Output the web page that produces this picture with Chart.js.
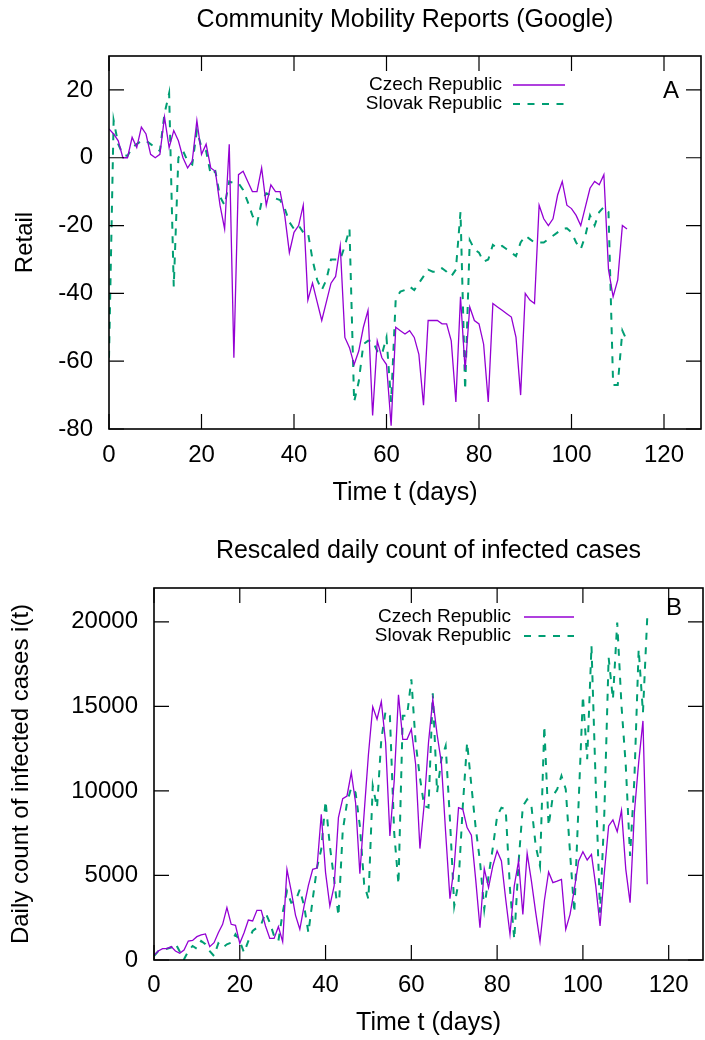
<!DOCTYPE html>
<html><head><meta charset="utf-8">
<script src="https://cdn.jsdelivr.net/npm/chart.js@4.4.0/dist/chart.umd.min.js"></script>
<style>
html,body{margin:0;padding:0;background:#fff;}
.wrap{position:absolute;left:0;width:705px;height:520px;}
canvas{display:block;}
</style></head><body>
<div class="wrap" style="top:0"><canvas id="cA" width="705" height="520"></canvas></div>
<div class="wrap" style="top:520px"><canvas id="cB" width="705" height="520"></canvas></div>
<script>
// ---------- Panel A: Google mobility, retail (day index = position in array) ----------
const czechRetail = [8.5,7,5,0,0,6,3,9,7,1,0,1,12,3,8,5,0,-3,-1,11,1,4,-3,-4,-14,-21,4,-59,-5,-4,
  -7,-10,-10,-3,-14,-8,-10,-10,-17,-28,-22,-20,-14,-42,-37,-42.5,-48,-42.5,-37,-35,
  -26,-53,-56,-61,-57,-50,-45,-76,-54,-59,-61,-79,-50,-51,-52,-51,-53,-58,-73,-48,
  -48,-48,-49,-49,-54,-72,-41,-62.6,-44,-48,-49,-55,-72,-43,-44,-45,-46,-47,-53,-70,
  -40,-42,-43,-14,-18,-20,-18,-11,-7,-14,-15,-17,-20,-14.5,-9,-7,-8,-5,-33,-41,-36,-20,-21];
const slovakRetail = [-59,11,4,1,0.5,3,4,5,5,4,3,2,13,19,-38,0,2,-1,-2,8,3,2,-5,-4,-11.5,-14,-7,-7.5,-7.5,-9.5,
  -13,-17,-19.5,-13,-10.5,-11,-12,-12.5,-15,-19,-21,-20,-22,-22,-30,-36,-39,-36,-30,-30,
  -30,-26,-21,-72,-66,-55,-54,-54,-57,-58,-53,-72,-41.5,-39.5,-39,-38,-39,-37,-35,-33,
  -33.6,-33.6,-32.6,-33.6,-35,-33,-16,-68.5,-24.3,-27,-28,-30.7,-30,-25.7,-26.7,-26,-27,-28,-29,-25,
  -23,-24,-25,-25,-25,-24,-23,-22,-21,-20.8,-22,-25,-27,-23,-17,-20,-16,-14.5,-16,-67,-67,-51,-54];
const xTicks = [0,20,40,60,80,100,120];
const yTicksA = [-80,-60,-40,-20,0,20];

// ---------- Panel B: rescaled daily infected cases ----------
const czechCases = [276,530,670,670,790,530,395,590,1124,1160,1380,1480,1540,790,1025,1617,2110,3100,2110,2050,
  990,1617,2366,2307,2940,2940,2010,1280,1280,1970,1085,5360,4080,2640,1815,3195,4417,5360,5440,8620,
  5170,3195,4380,8420,9545,9700,11080,9300,5100,8700,12170,14970,14240,15280,12860,7340,10590,15680,13050,13050,
  13650,11580,6590,9210,12860,15420,13350,11670,7530,3630,5560,9010,8910,7830,7380,4770,1910,5400,4280,5560,
  6450,5860,3590,1520,4380,5860,2700,6310,4670,2800,1085,3490,5210,4580,4670,4770,1815,2700,4180,5860,
  6410,5915,6250,4380,2010,5170,7930,8280,7590,8850,5360,3390,8720,11670,14140,4480];
const slovakCases = [237,530,600,670,730,990,500,40,530,830,670,1124,930,530,237,990,730,930,1025,1520,
  1124,434,1124,1715,1910,2110,2800,2210,1420,1124,2800,4080,3390,3490,4180,3195,1617,3590,5460,6550,
  9410,6740,4770,2600,7630,9300,10200,9900,7930,4480,3590,10300,9010,13050,14730,14440,7530,4480,14440,14440,
  16600,12860,10790,9110,9010,15770,9900,11870,12660,8320,3195,4580,9110,12860,10300,7830,5850,3000,4970,6650,
  8500,9010,8910,4180,1220,5760,9110,9500,9110,6740,5560,13840,7930,9700,10100,10890,10100,6350,2800,9310,
  15620,11870,18580,10300,2800,8720,17890,15420,19960,15030,11480,6150,10690,18380,14630,20250];
const yTicksB = [0,5000,10000,15000,20000];

const FONT = "'Liberation Sans', Arial, Helvetica, sans-serif";
const CZ = '#9400d3', SK = '#009e73';

const gnuFrame = {
  id: 'gnuFrame',
  afterDatasetsDraw(chart, args, o) {
    const {ctx, chartArea: a, scales: {x, y}} = chart;
    ctx.save();
    const L = 15;
    ctx.strokeStyle = '#000'; ctx.lineWidth = 1.2;
    ctx.beginPath();
    x.ticks.forEach(t => { const p = x.getPixelForValue(t.value);
      ctx.moveTo(p, a.bottom); ctx.lineTo(p, a.bottom - L);
      ctx.moveTo(p, a.top); ctx.lineTo(p, a.top + L); });
    y.ticks.forEach(t => { const p = y.getPixelForValue(t.value);
      ctx.moveTo(a.left, p); ctx.lineTo(a.left + L, p);
      ctx.moveTo(a.right, p); ctx.lineTo(a.right - L, p); });
    ctx.stroke();
    ctx.lineWidth = 1.6;
    ctx.strokeRect(a.left, a.top, a.right - a.left, a.bottom - a.top);
    // key
    ctx.font = '19px ' + FONT; ctx.fillStyle = '#000';
    ctx.textAlign = 'right'; ctx.textBaseline = 'middle';
    chart.data.datasets.forEach((ds, i) => {
      const yy = o.rows[i];
      ctx.fillText(ds.label, o.textRight, yy);
      ctx.save();
      ctx.strokeStyle = ds.borderColor; ctx.lineWidth = ds.borderWidth;
      ctx.setLineDash(ds.borderDash || []);
      ctx.beginPath(); ctx.moveTo(o.sample[0], yy); ctx.lineTo(o.sample[1], yy); ctx.stroke();
      ctx.restore();
    });
    ctx.font = '24px ' + FONT; ctx.textAlign = 'center';
    ctx.fillText(o.letter, o.letterPos[0], o.letterPos[1]);
    ctx.restore();
  }
};

function pts(arr) { return arr.map((v, i) => ({x: i, y: v})); }

function build(id, cfg) {
  const f = (s) => ({family: FONT, size: s, weight: 'normal', lineHeight: 1.2});
  return new Chart(document.getElementById(id), {
    type: 'line',
    data: {datasets: [
      {label: 'Czech Republic', data: pts(cfg.cz), borderColor: CZ, borderWidth: 1.3, pointRadius: 0, tension: 0, fill: false},
      {label: 'Slovak Republic', data: pts(cfg.sk), borderColor: SK, borderWidth: 2, borderDash: [7, 7.5], pointRadius: 0, tension: 0, fill: false}
    ]},
    plugins: [gnuFrame],
    options: {
      responsive: false, animation: false, devicePixelRatio: 1,
      layout: {padding: {left: 0, right: cfg.padRight, top: 0, bottom: 0}},
      plugins: {
        legend: {display: false}, tooltip: {enabled: false},
        title: {display: true, text: cfg.title, fullSize: false, color: '#000', font: f(25), padding: cfg.titlePad},
        gnuFrame: cfg.key
      },
      scales: {
        x: {type: 'linear', min: 0, max: 128,
          afterBuildTicks: s => { s.ticks = xTicks.map(v => ({value: v})); },
          afterFit: s => { s.height = cfg.xH; },
          grid: {display: false, drawTicks: false}, border: {display: false},
          ticks: {color: '#000', font: f(24), padding: cfg.xTickPad, maxRotation: 0, autoSkip: false,
                  callback: v => String(v)},
          title: {display: true, text: 'Time t (days)', color: '#000', font: f(25), padding: {top: 0, bottom: cfg.xTitlePad}}},
        y: {type: 'linear', min: cfg.yMin, max: cfg.yMax,
          afterBuildTicks: s => { s.ticks = cfg.yTicks.map(v => ({value: v})); },
          afterFit: s => { s.width = cfg.yW; },
          grid: {display: false, drawTicks: false}, border: {display: false},
          ticks: {color: '#000', font: f(24), padding: 16, autoSkip: false, callback: v => String(v)},
          title: {display: true, text: cfg.yTitle, color: '#000', font: f(24), padding: {top: cfg.yTitlePad, bottom: 0}}}
      }
    }
  });
}

build('cA', {
  cz: czechRetail, sk: slovakRetail, title: 'Community Mobility Reports (Google)',
  titlePad: {top: 5, bottom: 21}, padRight: 4, xH: 91, xTickPad: 12, xTitlePad: 12,
  yMin: -80, yMax: 30, yTicks: yTicksA, yW: 109, yTitle: 'Retail', yTitlePad: 10.6,
  key: {textRight: 502, rows: [85, 104], sample: [513, 565], letter: 'A', letterPos: [671, 91]}
});
build('cB', {
  cz: czechCases, sk: slovakCases, title: 'Rescaled daily count of infected cases',
  titlePad: {top: 16, bottom: 22}, padRight: 2, xH: 80, xTickPad: 11, xTitlePad: 2,
  yMin: 0, yMax: 22000, yTicks: yTicksB, yW: 154, yTitle: 'Daily count of infected cases i(t)', yTitlePad: 7.1,
  key: {textRight: 511, rows: [97, 116], sample: [524, 574], letter: 'B', letterPos: [674, 88]}
});
</script>
</body></html>
